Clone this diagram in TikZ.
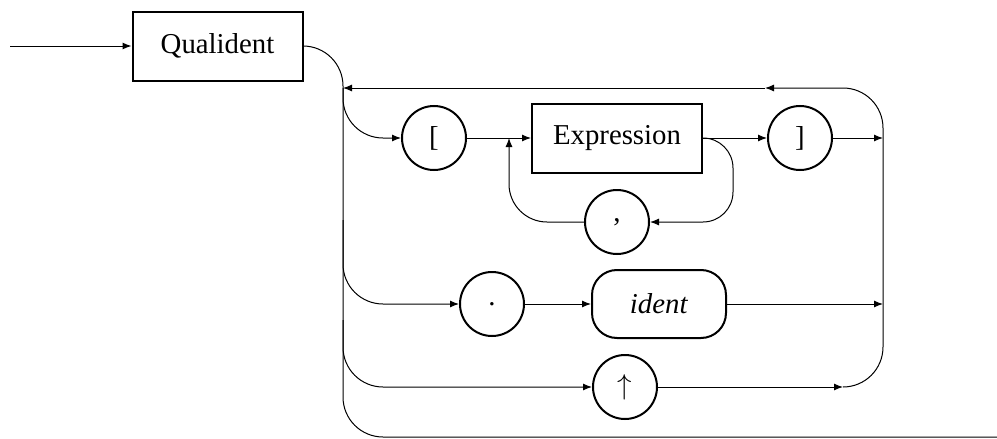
\documentclass[tikz,border=0pt]{standalone}
\usepackage{fontspec}
\setmainfont{Liberation Serif}
\usetikzlibrary{arrows.meta}

\begin{document}
\begin{tikzpicture}[x=0.5pt, y=-0.5pt,
every node/.style={align=center, font=\fontsize{14.4}{17}\selectfont},
nonterm/.style={draw, rectangle, line width=1pt, minimum width=85pt, minimum height=34.5pt, inner sep=0pt},
term/.style={draw, circle, line width=1pt, minimum size=32pt, inner sep=0pt},
tok/.style={draw, rectangle, rounded corners=12.5pt, line width=1pt, minimum width=67pt, minimum height=34pt, inner sep=0pt},
line/.style={line width=0.5pt},
arr/.style={line width=0.5pt, -{Latex[length=4.5pt,width=3.5pt]}},
railcurve/.style={rounded corners=20pt}]
\useasboundingbox (0,0) rectangle (997,439);
%================================================================
% Boxes
\node[nonterm] (qual) at (217.5,46) {Qualident};
\node[term] (lbrak) at (434,138) {[};
\node[nonterm] (expr) at (617,138) {Expression};
\node[term] (comma) at (617,222) {,};
\node[term] (rbrak) at (800,138) {]};
\node[term] (dot) at (492,304) {.};
\node[tok] (ident) at (659,304) {\textit{ident}};
\node[term] (up) at (625,387) {$\uparrow$};

%================================================================
% Rails
\coordinate (start) at (10,46);
\coordinate (stop) at (997,437);
\coordinate (lt) at (343,88);
\coordinate (ldot) at (343,220);
\coordinate (lup) at (343,320);
\coordinate (lbot) at (343,437);
\coordinate (rt) at (883,88);
\coordinate (rb) at (883,138);
\coordinate (ri) at (883,304);
\coordinate (loopmid) at (765,88);
\coordinate (upend) at (843,387);
\coordinate (jn) at (509,138);
\coordinate (ec) at (733,222);

% --------------------------------
% Entry and exit
\draw[arr] (start) -- (qual);
\draw[line, railcurve] (qual.east) -| (lbot) -- (stop);

% --------------------------------
% [ Expression {, Expression} ]
\draw[arr, railcurve] (lt) |- (lbrak);
\draw[arr] (lbrak) -- (expr);
\draw[arr, rounded corners=15pt] (expr.east) -| (ec) -- (comma);
\draw[arr, rounded corners=19pt] (comma) -| (jn);
\draw[arr] (expr) -- (rbrak);
\draw[arr] (rbrak) -- (rb);

% --------------------------------
% . ident
\draw[arr, railcurve] (ldot) |- (dot);
\draw[arr] (dot) -- (ident);
\draw[arr] (ident) -- (ri);

% --------------------------------
% up arrow
\draw[arr, railcurve] (lup) |- (up);
\draw[arr] (up) -- (upend);

% --------------------------------
% Loop back
\draw[arr, railcurve] (upend) -| (rt) -- (loopmid);
\draw[arr] (loopmid) -- (lt);

%================================================================
\end{tikzpicture}
\end{document}
